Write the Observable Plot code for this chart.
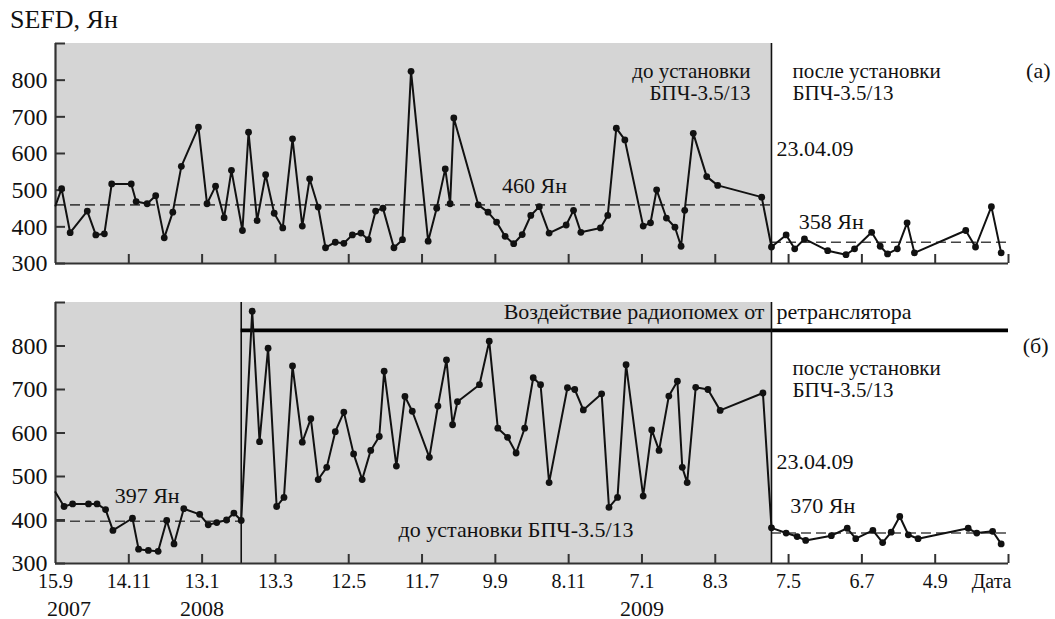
<!DOCTYPE html>
<html><head><meta charset="utf-8">
<script src="https://cdn.jsdelivr.net/npm/d3@7"></script>
<script src="https://cdn.jsdelivr.net/npm/@observablehq/plot@0.6"></script>
<style>
body{margin:0;background:#fff;}
#wrap{position:relative;width:1055px;height:619px;overflow:hidden;font-family:'Liberation Serif','Times New Roman',serif;color:#111;}
#top{position:absolute;left:0;top:0}
#bot{position:absolute;left:0;top:280px}
#title{position:absolute;left:10px;top:5px;font-size:26px;}
</style></head><body>
<div id="wrap"><div id="top"></div><div id="bot"></div><div id="title">SEFD, Ян</div></div>
<script>
// ---------- data ----------
const topDates = ["2007-09-15","2007-09-20","2007-09-27","2007-10-11","2007-10-18","2007-10-25","2007-10-31","2007-11-16","2007-11-20","2007-11-29",
"2007-12-06","2007-12-13","2007-12-20","2007-12-27","2008-01-10","2008-01-17","2008-01-24","2008-01-31","2008-02-06","2008-02-15",
"2008-02-20","2008-02-27","2008-03-05","2008-03-12","2008-03-19","2008-03-27","2008-04-04","2008-04-10","2008-04-17","2008-04-23",
"2008-05-01","2008-05-08","2008-05-15","2008-05-22","2008-05-28","2008-06-03","2008-06-09","2008-06-18","2008-06-25","2008-07-02",
"2008-07-16","2008-07-23","2008-07-30","2008-08-03","2008-08-06","2008-08-26","2008-09-03","2008-09-10","2008-09-17","2008-09-24",
"2008-10-01","2008-10-08","2008-10-15","2008-10-23","2008-11-06","2008-11-12","2008-11-18","2008-12-04","2008-12-10","2008-12-17",
"2008-12-24","2009-01-08","2009-01-14","2009-01-19","2009-01-27","2009-02-03","2009-02-08","2009-02-11","2009-02-18","2009-03-01",
"2009-03-10","2009-04-15","2009-04-23","2009-05-05","2009-05-12","2009-05-20","2009-06-08","2009-06-23","2009-06-30","2009-07-14",
"2009-07-21","2009-07-27","2009-08-04","2009-08-12","2009-08-18","2009-09-29","2009-10-07","2009-10-20","2009-10-28"];
const topValues = [458,504,384,443,378,381,517,517,469,463,
485,370,440,565,672,463,511,425,554,390,
658,417,542,437,397,640,402,531,454,343,
358,355,378,383,365,443,451,343,365,824,
361,451,558,463,697,460,440,413,374,354,
379,431,455,383,405,445,385,397,431,669,
637,402,411,501,424,399,347,445,655,537,
513,481,345,378,340,367,335,324,340,385,
347,326,340,411,329,390,345,455,329];

const botDates = ["2007-09-15","2007-09-22","2007-09-29","2007-10-12","2007-10-19","2007-10-26","2007-11-01","2007-11-17","2007-11-22","2007-11-30",
"2007-12-08","2007-12-15","2007-12-21","2007-12-29","2008-01-11","2008-01-18","2008-01-25","2008-02-02","2008-02-08","2008-02-14",
"2008-02-23","2008-02-29","2008-03-07","2008-03-14","2008-03-20","2008-03-27","2008-04-04","2008-04-11","2008-04-17","2008-04-24",
"2008-05-01","2008-05-08","2008-05-16","2008-05-23","2008-05-30","2008-06-06","2008-06-10","2008-06-20","2008-06-27","2008-07-03",
"2008-07-17","2008-07-24","2008-07-31","2008-08-05","2008-08-09","2008-08-27","2008-09-04","2008-09-11","2008-09-19","2008-09-26",
"2008-10-03","2008-10-10","2008-10-16","2008-10-23","2008-11-07","2008-11-13","2008-11-20","2008-12-05","2008-12-11","2008-12-18",
"2008-12-25","2009-01-08","2009-01-15","2009-01-21","2009-01-29","2009-02-05","2009-02-09","2009-02-13","2009-02-20","2009-03-02",
"2009-03-12","2009-04-16","2009-04-23","2009-05-05","2009-05-14","2009-05-21","2009-06-11","2009-06-24","2009-07-01","2009-07-15",
"2009-07-23","2009-07-30","2009-08-06","2009-08-13","2009-08-21","2009-10-01","2009-10-08","2009-10-21","2009-10-28"];
const botValues = [464,431,437,437,437,424,376,404,333,330,
328,399,345,426,413,389,394,400,416,399,
880,580,795,431,452,754,579,633,493,521,
603,648,552,493,560,592,742,524,684,650,
544,662,768,619,672,711,811,611,590,554,
611,727,711,486,704,700,653,690,429,452,
757,455,607,560,685,719,521,486,705,700,
652,692,382,370,362,353,364,381,357,376,
348,372,408,366,357,381,370,374,345];

const xTickDates = ["2007-09-15","2007-11-14","2008-01-13","2008-03-13","2008-05-12","2008-07-11","2008-09-09","2008-11-08","2009-01-07","2009-03-08","2009-05-07","2009-07-06","2009-09-04","2009-11-03"];
const xTickLabels = ["15.9","14.11","13.1","13.3","12.5","11.7","9.9","8.11","7.1","8.3","7.5","6.7","4.9",""];
const xAxisTitle = "Дата";
const yearLabels = ["2007","2008","2009"];
const yearDates = ["2007-09-26","2008-01-13","2009-01-07"];
const yTicks = [300,400,500,600,700,800,900];
const yTickLabels = [300,400,500,600,700,800];

const xStartStr = "2007-09-15", xEndStr = "2009-11-03";
const installDateStr = "2009-04-23";
const interferenceStartStr = "2008-02-14";
const topMeanBefore = 460, topMeanAfter = 358;
const botMeanBefore = 397, botMeanAfter = 370;
const interferenceLevel = 836;

// ---------- build ----------
const D = s => new Date(s + "T00:00:00Z");
const xStart = D(xStartStr), xEnd = D(xEndStr), install = D(installDateStr), interf = D(interferenceStartStr);
const topData = topDates.map((d, i) => ({date: D(d), value: topValues[i], dot: i > 0}));
const botData = botDates.map((d, i) => ({date: D(d), value: botValues[i], dot: i > 0}));
const xTicks = xTickDates.map((d, i) => ({date: D(d), label: xTickLabels[i]}));

const W = 1055, ML = 55, MR = 47;
const font = "'Liberation Serif','Times New Roman',serif";
const axisColor = "#333";
const fs = 21;

function panel({height, marginTop, marginBottom, data, grayTo, meanBefore, meanBeforeTo, meanAfter, extra, texts}) {
  const ph = height - marginTop - marginBottom;
  const pw = W - ML - MR;
  return Plot.plot({
    width: W, height, marginTop, marginBottom, marginLeft: ML, marginRight: MR,
    x: {type: "utc", domain: [xStart, xEnd], axis: null},
    y: {domain: [300, 900], axis: null},
    style: {background: "transparent", fontFamily: font, color: "#111", overflow: "visible"},
    marks: [
      Plot.rect([{a: xStart, b: grayTo}], {x1: "a", x2: "b", fill: "#d5d5d5"}),
      Plot.ruleY([{v: meanBefore, a: xStart, b: meanBeforeTo}], {y: "v", x1: "a", x2: "b", stroke: "#444", strokeWidth: 1.6, strokeDasharray: "10,5"}),
      Plot.ruleY([{v: meanAfter, a: install, b: xEnd}], {y: "v", x1: "a", x2: "b", stroke: "#444", strokeWidth: 1.6, strokeDasharray: "10,5"}),
      ...extra,
      Plot.ruleX([install], {stroke: "#111", strokeWidth: 1.6}),
      Plot.tickX(xTicks.slice(1), {x: "date", insetTop: ph - 9, stroke: axisColor, strokeWidth: 2}),
      Plot.tickY(yTicks, {y: d => d, insetRight: pw - 10, stroke: axisColor, strokeWidth: 2}),
      Plot.ruleX([xStart], {stroke: axisColor, strokeWidth: 2.2}),
      Plot.ruleY([300], {stroke: axisColor, strokeWidth: 2.2}),
      Plot.axisY(yTickLabels, {anchor: "left", tickSize: 0, tickPadding: 8, fontSize: 24, label: null, tickFormat: d => String(d)}),
      Plot.line(data, {x: "date", y: "value", stroke: "#111", strokeWidth: 2}),
      Plot.dot(data.filter(d => d.dot), {x: "date", y: "value", r: 3.4, fill: "#111"}),
      ...texts
    ]
  });
}

const T = (text, opts) => Plot.text([text], {text: d => d, lineAnchor: "bottom", fontSize: fs, lineHeight: 1.05, ...opts});

const topPlot = panel({
  height: 280, marginTop: 43, marginBottom: 17, data: topData,
  grayTo: install, meanBefore: topMeanBefore, meanBeforeTo: install, meanAfter: topMeanAfter,
  extra: [],
  texts: [
    T("до установки\nБПЧ-3.5/13", {x: () => install, y: () => 747, dx: -21, textAnchor: "end"}),
    T("после установки\nБПЧ-3.5/13", {x: () => install, y: () => 747, dx: 21, textAnchor: "start"}),
    T("(а)", {x: () => xEnd, y: () => 807, dx: 42, textAnchor: "end", fontSize: 22}),
    T("23.04.09", {x: () => install, y: () => 594, dx: 5, textAnchor: "start", fontSize: 22}),
    T(topMeanBefore + " Ян", {x: () => D("2008-10-11"), y: () => 491, fontSize: 22}),
    T(topMeanAfter + " Ян", {x: () => D("2009-06-11"), y: () => 395, fontSize: 22})
  ]
});

const botPlot = panel({
  height: 339, marginTop: 22, marginBottom: 56, data: botData,
  grayTo: install, meanBefore: botMeanBefore, meanBeforeTo: interf, meanAfter: botMeanAfter,
  extra: [
    Plot.ruleX([interf], {stroke: "#111", strokeWidth: 1.6}),
    Plot.ruleY([{v: interferenceLevel, a: interf, b: xEnd}], {y: "v", x1: "a", x2: "b", stroke: "#000", strokeWidth: 3.6})
  ],
  texts: [
    T("Воздействие радиопомех от", {x: () => install, y: () => 863, dx: -7, textAnchor: "end", fontSize: 22}),
    T("ретранслятора", {x: () => install, y: () => 863, dx: 5, textAnchor: "start", fontSize: 22}),
    T("после установки\nБПЧ-3.5/13", {x: () => install, y: () => 682, dx: 21, textAnchor: "start"}),
    T("(б)", {x: () => xEnd, y: () => 785, dx: 40, textAnchor: "end", fontSize: 22}),
    T("23.04.09", {x: () => install, y: () => 518, dx: 5, textAnchor: "start", fontSize: 22}),
    T(botMeanBefore + " Ян", {x: () => D("2007-11-29"), y: () => 438, fontSize: 22}),
    T(botMeanAfter + " Ян", {x: () => D("2009-06-04"), y: () => 417, fontSize: 22}),
    T("до установки БПЧ-3.5/13", {x: () => D("2008-09-26"), y: () => 360, fontSize: 22}),
    Plot.text(xTicks, {x: "date", text: "label", frameAnchor: "bottom", lineAnchor: "bottom", dy: 24, fontSize: 20}),
    Plot.text([xAxisTitle], {x: () => xEnd, text: d => d, frameAnchor: "bottom", lineAnchor: "bottom", dy: 24, dx: 3, textAnchor: "end", fontSize: 20}),
    Plot.text(yearLabels, {x: (d, i) => D(yearDates[i]), text: d => d, frameAnchor: "bottom", lineAnchor: "bottom", dy: 52, fontSize: 22})
  ]
});

document.getElementById("top").appendChild(topPlot);
document.getElementById("bot").appendChild(botPlot);
</script>
</body></html>
